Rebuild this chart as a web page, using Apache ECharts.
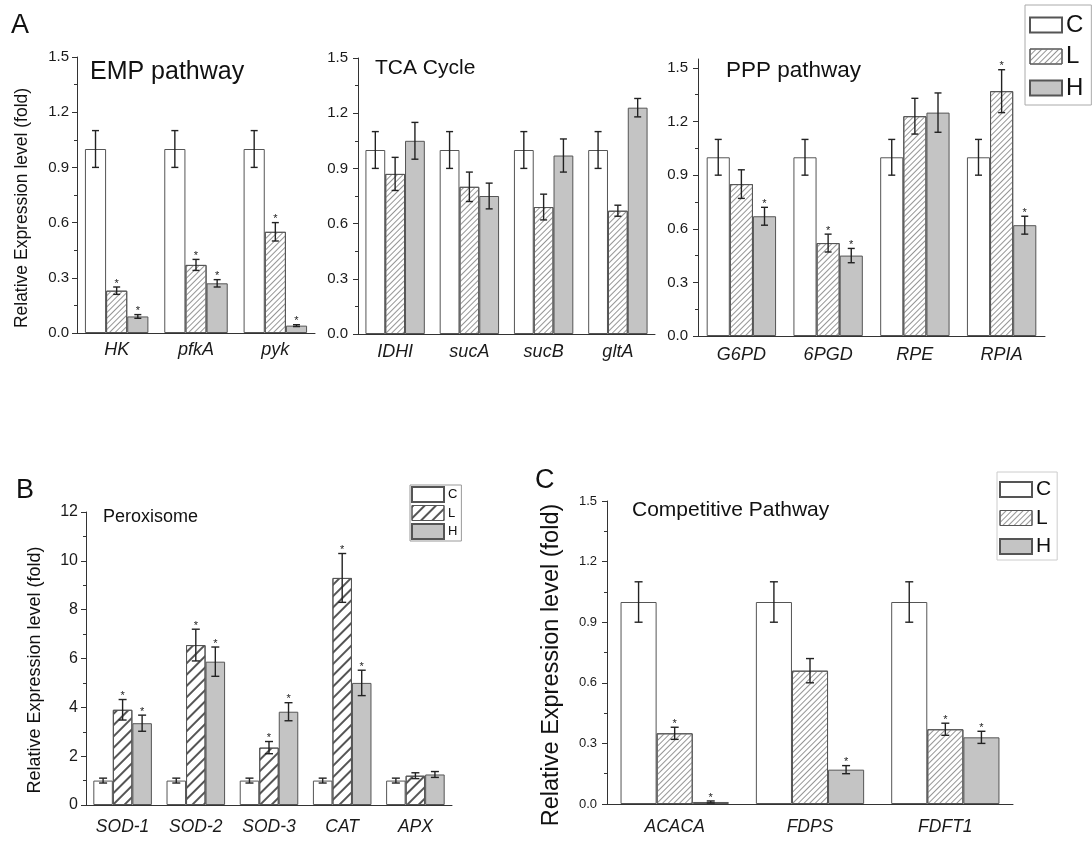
<!DOCTYPE html>
<html><head><meta charset="utf-8">
<script src="https://cdn.jsdelivr.net/npm/echarts@6/dist/echarts.min.js"></script>
<style>html,body{margin:0;padding:0;background:#fff}#main{width:1092px;height:867px}</style>
</head><body><div id="main"></div>
<script>
// ---------- DATA ----------
const seriesNames = ['C', 'L', 'H'];

const empCats = ['HK', 'pfkA', 'pyk'];
const empC = [1.00, 1.00, 1.00];
const empCErr = [0.10, 0.10, 0.10];
const empL = [0.23, 0.37, 0.55];
const empLErr = [0.02, 0.03, 0.05];
const empH = [0.09, 0.27, 0.04];
const empHErr = [0.01, 0.02, 0.005];
const empStarC = [0, 0, 0];
const empStarL = [1, 1, 1];
const empStarH = [1, 1, 1];

const tcaCats = ['IDHI', 'sucA', 'sucB', 'gltA'];
const tcaC = [1.00, 1.00, 1.00, 1.00];
const tcaCErr = [0.10, 0.10, 0.10, 0.10];
const tcaL = [0.87, 0.80, 0.69, 0.67];
const tcaLErr = [0.09, 0.08, 0.07, 0.03];
const tcaH = [1.05, 0.75, 0.97, 1.23];
const tcaHErr = [0.10, 0.07, 0.09, 0.05];
const tcaStarC = [0, 0, 0, 0];
const tcaStarL = [0, 0, 0, 0];
const tcaStarH = [0, 0, 0, 0];

const pppCats = ['G6PD', '6PGD', 'RPE', 'RPIA'];
const pppC = [1.00, 1.00, 1.00, 1.00];
const pppCErr = [0.10, 0.10, 0.10, 0.10];
const pppL = [0.85, 0.52, 1.23, 1.37];
const pppLErr = [0.08, 0.05, 0.10, 0.12];
const pppH = [0.67, 0.45, 1.25, 0.62];
const pppHErr = [0.05, 0.04, 0.11, 0.05];
const pppStarC = [0, 0, 0, 0];
const pppStarL = [0, 1, 0, 1];
const pppStarH = [1, 1, 0, 1];

const peroxCats = ['SOD-1', 'SOD-2', 'SOD-3', 'CAT', 'APX'];
const peroxC = [1.00, 1.00, 1.00, 1.00, 1.00];
const peroxCErr = [0.10, 0.10, 0.10, 0.10, 0.10];
const peroxL = [3.90, 6.55, 2.35, 9.30, 1.20];
const peroxLErr = [0.42, 0.65, 0.25, 1.00, 0.12];
const peroxH = [3.35, 5.87, 3.82, 5.00, 1.25];
const peroxHErr = [0.33, 0.60, 0.37, 0.52, 0.12];
const peroxStarC = [0, 0, 0, 0, 0];
const peroxStarL = [1, 1, 1, 1, 0];
const peroxStarH = [1, 1, 1, 1, 0];

const compCats = ['ACACA', 'FDPS', 'FDFT1'];
const compC = [1.00, 1.00, 1.00];
const compCErr = [0.10, 0.10, 0.10];
const compL = [0.35, 0.66, 0.37];
const compLErr = [0.03, 0.06, 0.03];
const compH = [0.01, 0.17, 0.33];
const compHErr = [0.005, 0.02, 0.03];
const compStarC = [0, 0, 0];
const compStarL = [1, 0, 1];
const compStarH = [1, 1, 1];

const ticks15 = [0, 0.3, 0.6, 0.9, 1.2, 1.5];
const ticks12 = [0, 2, 4, 6, 8, 10, 12];

// ---------- STYLE ----------
const FONT = '"Liberation Sans", Arial, Helvetica, sans-serif';
const hatchFine = {symbol: 'rect', symbolSize: 1, dashArrayX: [1, 0], dashArrayY: [1, 2.2], rotation: -Math.PI / 4, color: '#959595'};
const hatchCoarse = {symbol: 'rect', symbolSize: 1, dashArrayX: [1, 0], dashArrayY: [1.4, 6], rotation: -Math.PI / 4, color: '#555'};

const grids = [], xAxes = [], yAxes = [], series = [];

function addPanel(p) {
  const g = grids.length;
  grids.push({left: p.left, top: p.top, width: p.width, height: p.height});
  const xi = xAxes.length;
  xAxes.push({gridIndex: g, type: 'category', data: p.cats, position: 'bottom',
    axisLine: {lineStyle: {color: '#333', width: 1}},
    axisTick: {length: 5, lineStyle: {color: '#333'}},
    axisLabel: {fontStyle: 'italic', fontSize: p.xFont, color: '#1a1a1a', margin: p.xMargin, fontFamily: FONT, interval: 0}});
  xAxes.push({gridIndex: g, type: 'category', data: p.cats, position: 'bottom',
    axisLine: {show: false}, axisTick: {alignWithLabel: true, length: 3, lineStyle: {color: '#333'}},
    axisLabel: {show: false}});
  const yi = yAxes.length;
  yAxes.push({gridIndex: g, type: 'value', min: 0, max: p.max, interval: p.interval,
    axisLine: {show: true, lineStyle: {color: '#333'}},
    axisTick: {show: true, length: 5, customValues: p.ticks, lineStyle: {color: '#333'}},
    minorTick: {show: true, splitNumber: 2, length: 3, lineStyle: {color: '#333'}},
    splitLine: {show: false},
    axisLabel: {fontSize: p.yFont, color: '#1a1a1a', margin: p.yMargin, fontFamily: FONT,
      customValues: p.ticks, formatter: v => p.fmt(v)}});
  const groups = [
    {vals: p.c, errs: p.ce, stars: p.cs, color: '#ffffff', decal: null},
    {vals: p.l, errs: p.le, stars: p.ls, color: '#ffffff', decal: p.hatch},
    {vals: p.h, errs: p.he, stars: p.hs, color: '#c4c4c4', decal: null}
  ];
  groups.forEach((s, k) => {
    const it = {color: s.color, borderColor: '#555', borderWidth: 1};
    if (s.decal) it.decal = s.decal;
    series.push({type: 'bar', name: seriesNames[k], xAxisIndex: xi, yAxisIndex: yi, data: s.vals,
      barGap: '0%', barCategoryGap: '20%', itemStyle: it, silent: true, z: 2});
  });
  groups.forEach((s, k) => {
    series.push({type: 'custom', name: seriesNames[k] + ' err', xAxisIndex: xi, yAxisIndex: yi, silent: true, z: 5,
      data: p.cats.map((c, i) => [i, s.vals[i], s.errs[i], s.stars[i]]),
      encode: {x: 0, y: 1},
      renderItem: (params, api) => {
        const i = api.value(0), v = api.value(1), e = api.value(2), st = api.value(3);
        const band = api.size([1, 0])[0];
        const bw = band * 0.8 / 3;
        const cx = api.coord([i, v])[0] + (k - 1) * bw;
        const yt = api.coord([i, v + e])[1];
        const yb = api.coord([i, Math.max(v - e, 0)])[1];
        const cap = p.cap;
        const ls = {stroke: '#222', lineWidth: 1.4};
        const ch = [
          {type: 'line', shape: {x1: cx, y1: yt, x2: cx, y2: yb}, style: ls},
          {type: 'line', shape: {x1: cx - cap, y1: yt, x2: cx + cap, y2: yt}, style: ls},
          {type: 'line', shape: {x1: cx - cap, y1: yb, x2: cx + cap, y2: yb}, style: ls}
        ];
        if (st) ch.push({type: 'text', x: cx, y: yt + 2,
          style: {text: '*', fontSize: p.starFont, fill: '#222', fontFamily: FONT,
            align: 'center', verticalAlign: 'bottom', textAlign: 'center', textVerticalAlign: 'bottom'}});
        return {type: 'group', children: ch};
      }});
  });
}

const f1 = v => v.toFixed(1);
const f0 = v => String(Math.round(v));

addPanel({left: 77, top: 57, width: 238, height: 276, cats: empCats, max: 1.5, interval: 0.3, ticks: ticks15, fmt: f1,
  c: empC, ce: empCErr, cs: empStarC, l: empL, le: empLErr, ls: empStarL, h: empH, he: empHErr, hs: empStarH,
  hatch: hatchFine, xFont: 18, xMargin: 8, yFont: 15, yMargin: 8, cap: 3.5, starFont: 11});
addPanel({left: 358, top: 58, width: 297, height: 276, cats: tcaCats, max: 1.5, interval: 0.3, ticks: ticks15, fmt: f1,
  c: tcaC, ce: tcaCErr, cs: tcaStarC, l: tcaL, le: tcaLErr, ls: tcaStarL, h: tcaH, he: tcaHErr, hs: tcaStarH,
  hatch: hatchFine, xFont: 18, xMargin: 9, yFont: 15, yMargin: 10, cap: 3.5, starFont: 11});
addPanel({left: 698, top: 59, width: 347, height: 277, cats: pppCats, max: 1.55, interval: 0.3, ticks: ticks15, fmt: f1,
  c: pppC, ce: pppCErr, cs: pppStarC, l: pppL, le: pppLErr, ls: pppStarL, h: pppH, he: pppHErr, hs: pppStarH,
  hatch: hatchFine, xFont: 18, xMargin: 10, yFont: 15, yMargin: 10, cap: 3.5, starFont: 11});
addPanel({left: 86, top: 512, width: 366, height: 293, cats: peroxCats, max: 12, interval: 2, ticks: ticks12, fmt: f0,
  c: peroxC, ce: peroxCErr, cs: peroxStarC, l: peroxL, le: peroxLErr, ls: peroxStarL, h: peroxH, he: peroxHErr, hs: peroxStarH,
  hatch: hatchCoarse, xFont: 17.5, xMargin: 13, yFont: 16, yMargin: 8, cap: 4, starFont: 11});
addPanel({left: 607, top: 501, width: 406, height: 303, cats: compCats, max: 1.5, interval: 0.3, ticks: ticks15, fmt: f1,
  c: compC, ce: compCErr, cs: compStarC, l: compL, le: compLErr, ls: compStarL, h: compH, he: compHErr, hs: compStarH,
  hatch: hatchFine, xFont: 17.5, xMargin: 14, yFont: 13, yMargin: 10, cap: 4, starFont: 11});

function txt(x, y, text, size, extra) {
  return Object.assign({type: 'text', x: x, y: y, silent: true,
    style: {text: text, fontSize: size, fontFamily: FONT, fill: '#111',
      textAlign: 'left', textVerticalAlign: 'middle', align: 'left', verticalAlign: 'middle'}}, extra || {});
}
function vtxt(x, y, text, size) {
  return {type: 'text', x: x, y: y, rotation: Math.PI / 2, silent: true,
    style: {text: text, fontSize: size, fontFamily: FONT, fill: '#111',
      textAlign: 'center', textVerticalAlign: 'middle', align: 'center', verticalAlign: 'middle'}};
}
const yName = 'Relative Expression level (fold)';
const graphics = [
  txt(11, 26, 'A', 27),
  txt(90, 72, 'EMP pathway', 25),
  txt(375, 68, 'TCA Cycle', 21),
  txt(726, 71, 'PPP pathway', 22.5),
  vtxt(22, 208, yName, 17.5),
  txt(16, 491, 'B', 27),
  txt(103, 517, 'Peroxisome', 18),
  vtxt(35, 670, yName, 18),
  txt(535, 481, 'C', 27),
  txt(632, 510, 'Competitive Pathway', 21),
  vtxt(552, 665, yName, 23.5)
];

function legend(left, top, fontSize, gap, pad, border, hatch) {
  return {orient: 'vertical', left: left, top: top, selectedMode: false,
    itemWidth: 32, itemHeight: 15, itemGap: gap, padding: pad,
    borderColor: border, borderWidth: 1, borderRadius: 0, backgroundColor: '#fff',
    textStyle: {fontSize: fontSize, color: '#111', fontFamily: FONT, padding: [0, 0, 0, -1]},
    data: [
      {name: 'C', icon: 'rect'},
      {name: 'L', icon: 'rect', itemStyle: {color: '#fff', borderColor: '#555', borderWidth: 1, decal: hatch}},
      {name: 'H', icon: 'rect'}
    ]};
}

const option = {
  animation: false,
  backgroundColor: '#ffffff',
  textStyle: {fontFamily: FONT},
  grid: grids, xAxis: xAxes, yAxis: yAxes, series: series,
  legend: [
    legend(1025, 5, 24, 7.5, [8, 8, 5, 4], '#aaa', hatchFine),
    legend(410, 485, 13, 2, [1, 4, 1, 1], '#999', hatchCoarse),
    legend(997, 472, 21, 7.5, [7, 6, 3, 2], '#ccc', hatchFine)
  ],
  graphic: graphics
};

const chart = echarts.init(document.getElementById('main'), null, {renderer: 'canvas'});
chart.setOption(option);
</script>
</body></html>
